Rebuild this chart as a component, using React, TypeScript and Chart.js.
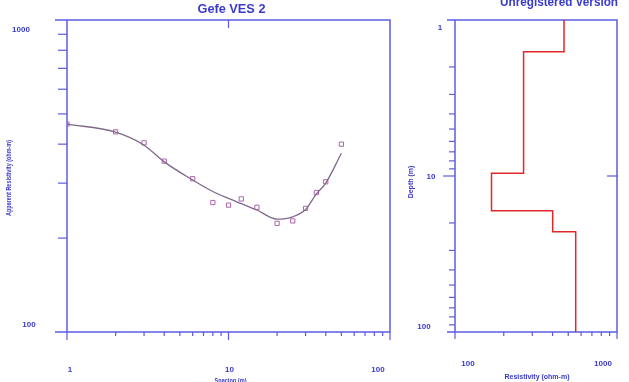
import React, { useEffect, useRef } from "react";
import { Chart, registerables } from "chart.js";

Chart.register(...registerables);

// ---- Data: left chart (sounding curve) ----
const spacing = [1, 2, 3, 4, 6, 8, 10, 12, 15, 20, 25, 30, 35, 40, 50];
const observedRho = [464, 438, 404, 353, 310, 260, 255, 267, 251, 223, 227, 249, 280, 303, 400];
const modelSpacing = [1, 2, 3, 4, 6, 8, 10, 12, 15, 20, 25, 30, 35, 40, 50];
const calculatedRho = [464, 437, 397, 351, 307, 282, 268, 258, 246, 230, 234, 247, 277, 300, 374];
const leftXTicks = [1, 10, 100];
const leftXTickLabels = ["1", "10", "100"];
const leftYTicks = [1000, 100];
const leftYTickLabels = ["1000", "100"];

// ---- Data: right chart (layer model) ----
const layerResistivity = [471, 265, 168, 401, 556];
const layerBottomDepth = [1.6, 9.6, 16.7, 22.8];
const depthTop = 1;
const depthBottom = 100;
const rightXTicks = [100, 1000];
const rightXTickLabels = ["100", "1000"];
const rightYTicks = [1, 10, 100];
const rightYTickLabels = ["1", "10", "100"];

const AXIS = "rgb(92,92,226)";
const TEXT = "rgb(58,58,205)";
const FONT = "'Liberation Sans', Arial, sans-serif";

function seg(ctx: CanvasRenderingContext2D, x1: number, y1: number, x2: number, y2: number) {
  ctx.beginPath();
  ctx.moveTo(x1, y1);
  ctx.lineTo(x2, y2);
  ctx.stroke();
}

function text(ctx: CanvasRenderingContext2D, s: string, x: number, y: number, size: number, maxW?: number, rot = 0) {
  ctx.save();
  ctx.translate(x, y);
  if (rot) ctx.rotate(rot);
  ctx.font = `bold ${size}px ${FONT}`;
  ctx.fillStyle = TEXT;
  ctx.textAlign = "center";
  ctx.textBaseline = "middle";
  if (maxW) ctx.fillText(s, 0, 0, maxW);
  else ctx.fillText(s, 0, 0);
  ctx.restore();
}

const leftDecor = {
  id: "leftDecor",
  beforeDatasetsDraw(chart: any) {
    const { ctx, chartArea: a, scales } = chart;
    const x = scales.x, y = scales.y;
    ctx.save();
    ctx.strokeStyle = AXIS;
    ctx.lineWidth = 1.5;
    ctx.strokeRect(a.left, a.top, a.right - a.left, a.bottom - a.top);
    seg(ctx, 55, a.top, a.left, a.top);
    seg(ctx, 55, a.bottom, a.left, a.bottom);
    ctx.lineWidth = 1.2;
    for (let m = 2; m <= 9; m++) {
      const py = y.getPixelForValue(m * 100);
      seg(ctx, a.left - 9, py, a.left, py);
    }
    for (const d of [1, 10]) {
      for (let m = 2; m <= 9; m++) {
        const px = x.getPixelForValue(d * m);
        seg(ctx, px, a.bottom, px, a.bottom + 4);
      }
    }
    for (const v of leftXTicks) {
      const px = x.getPixelForValue(v);
      seg(ctx, px, a.bottom, px, a.bottom + 8);
    }
    const p10 = x.getPixelForValue(10);
    seg(ctx, p10, a.top, p10, a.top + 8);
    ctx.restore();

    const xOff = [3, 1, -12];
    leftXTicks.forEach((v, i) => text(ctx, leftXTickLabels[i], x.getPixelForValue(v) + xOff[i], 370, 8));
    const yOff = [10, -7];
    const yX = [21, 29];
    leftYTicks.forEach((v, i) => text(ctx, leftYTickLabels[i], yX[i], y.getPixelForValue(v) + yOff[i], 8));
    text(ctx, "Gefe VES 2", (a.left + a.right) / 2 + 3, 9, 13, 68);
    text(ctx, "Apparent Resistivity (ohm-m)", 9, 178, 7, 76, -Math.PI / 2);
    text(ctx, "Spacing (m)", (a.left + a.right) / 2 + 2, 381, 7, 32);
  },
};

const rightDecor = {
  id: "rightDecor",
  beforeDatasetsDraw(chart: any) {
    const { ctx, chartArea: a, scales } = chart;
    const x = scales.x, y = scales.y;
    ctx.save();
    ctx.strokeStyle = AXIS;
    ctx.lineWidth = 1.5;
    ctx.strokeRect(a.left, a.top, a.right - a.left, a.bottom - a.top);
    seg(ctx, 447, a.top, a.left, a.top);
    seg(ctx, 447, a.bottom, a.left, a.bottom);
    ctx.lineWidth = 1.2;
    for (const d of [1, 10]) {
      for (let m = 2; m <= 9; m++) {
        const py = y.getPixelForValue(d * m);
        seg(ctx, a.left - 6, py, a.left, py);
      }
    }
    const p10 = y.getPixelForValue(10);
    seg(ctx, a.left - 12, p10, a.left, p10);
    seg(ctx, a.right - 10, p10, a.right + 1, p10);
    for (let m = 2; m <= 9; m++) {
      const px = x.getPixelForValue(m * 100);
      seg(ctx, px, a.bottom, px, a.bottom + 4);
    }
    for (const v of rightXTicks) {
      const px = x.getPixelForValue(v);
      seg(ctx, px, a.bottom, px, a.bottom + 7);
    }
    ctx.restore();

    const xOff = [13, -14];
    rightXTicks.forEach((v, i) => text(ctx, rightXTickLabels[i], x.getPixelForValue(v) + xOff[i], 364, 8));
    const yX = [440, 431, 424];
    const yOff = [8, 1, -5];
    rightYTicks.forEach((v, i) => text(ctx, rightYTickLabels[i], yX[i], y.getPixelForValue(v) + yOff[i], 8));
    text(ctx, "Unregistered Version", 559, 3, 12, 118);
    text(ctx, "Depth (m)", 411, 182, 7, 36, -Math.PI / 2);
    text(ctx, "Resistivity (ohm-m)", 537, 377, 7, 72);
  },
};

function hiddenScale(extra: any) {
  return {
    type: "logarithmic",
    ticks: { display: false },
    grid: { display: false, drawTicks: false },
    border: { display: false },
    ...extra,
  };
}

export default function App() {
  const leftRef = useRef<HTMLCanvasElement>(null);
  const rightRef = useRef<HTMLCanvasElement>(null);

  useEffect(() => {
    const left = new Chart(leftRef.current!, {
      type: "scatter",
      data: {
        datasets: [
          {
            type: "line",
            data: modelSpacing.map((s, i) => ({ x: s, y: calculatedRho[i] })),
            borderColor: "rgb(128,104,140)",
            borderWidth: 1.3,
            pointRadius: 0,
            cubicInterpolationMode: "monotone",
            fill: false,
          } as any,
          {
            data: spacing.map((s, i) => ({ x: s, y: observedRho[i] })),
            pointStyle: "rect",
            pointRadius: 3,
            borderWidth: 1,
            borderColor: "rgb(176,100,170)",
            backgroundColor: "rgba(0,0,0,0)",
          },
        ],
      },
      options: {
        responsive: false,
        animation: false,
        events: [],
        layout: { padding: { left: 0, right: 239, top: 20, bottom: 0 } },
        plugins: { legend: { display: false }, tooltip: { enabled: false }, title: { display: false } },
        scales: {
          x: hiddenScale({ min: 1, max: 100, afterFit: (s: any) => { s.height = 50; } }),
          y: hiddenScale({ min: 100, max: 1000, afterFit: (s: any) => { s.width = 67; } }),
        } as any,
      },
      plugins: [leftDecor],
    });

    const stepPts: { x: number; y: number }[] = [];
    layerResistivity.forEach((r, i) => {
      const top = i === 0 ? depthTop : layerBottomDepth[i - 1];
      const bot = i < layerBottomDepth.length ? layerBottomDepth[i] : depthBottom;
      stepPts.push({ x: r, y: top }, { x: r, y: bot });
    });

    const right = new Chart(rightRef.current!, {
      type: "scatter",
      data: {
        datasets: [
          {
            type: "line",
            data: stepPts,
            borderColor: "rgb(226,40,40)",
            borderWidth: 1.5,
            pointRadius: 0,
            tension: 0,
            fill: false,
          } as any,
        ],
      },
      options: {
        responsive: false,
        animation: false,
        events: [],
        layout: { padding: { left: 400, right: 12, top: 20, bottom: 0 } },
        plugins: { legend: { display: false }, tooltip: { enabled: false }, title: { display: false } },
        scales: {
          x: hiddenScale({ min: 100, max: 1000, afterFit: (s: any) => { s.height = 50; } }),
          y: hiddenScale({ min: 1, max: 100, reverse: true, afterFit: (s: any) => { s.width = 55; } }),
        } as any,
      },
      plugins: [rightDecor],
    });

    return () => {
      left.destroy();
      right.destroy();
    };
  }, []);

  const cs: React.CSSProperties = { position: "absolute", left: 0, top: 0 };
  return (
    <div style={{ position: "fixed", left: 0, top: 0, width: 629, height: 382, background: "#fff" }}>
      <canvas ref={leftRef} width={629} height={382} style={cs} />
      <canvas ref={rightRef} width={629} height={382} style={cs} />
    </div>
  );
}
